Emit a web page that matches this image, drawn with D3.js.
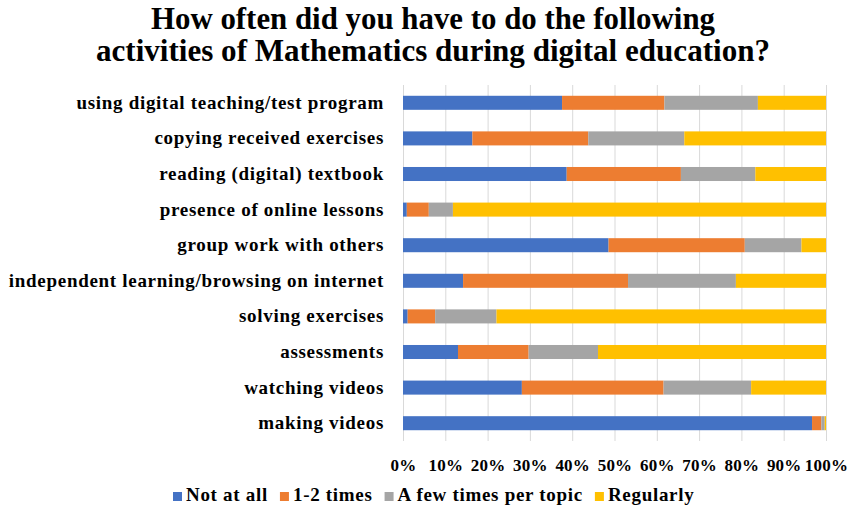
<!DOCTYPE html>
<html>
<head>
<meta charset="utf-8">
<script src="https://cdn.jsdelivr.net/npm/d3@7"></script>
<style>
  html, body { margin: 0; padding: 0; background: #fff; }
  svg { display: block; }
  text { font-family: "Liberation Serif", "Times New Roman", serif; font-weight: bold; fill: #000; }
</style>
</head>
<body>
<svg id="chart" width="856" height="508"></svg>
<script>
// Activities, top to bottom
const activities = [
  "using digital teaching/test program",
  "copying received exercises",
  "reading (digital) textbook",
  "presence of online lessons",
  "group work with others",
  "independent learning/browsing on internet",
  "solving exercises",
  "assessments",
  "watching videos",
  "making videos"
];

// Response categories (stack order, left to right)
const responses = ["Not at all", "1-2 times", "A few times per topic", "Regularly"];

// Share of answers (%) per activity, one array per response
const notAtAll      = [37.6, 16.4, 38.7,  0.9, 48.6, 14.2,  1.1, 13.0, 28.1, 96.7];
const oneTwoTimes   = [24.2, 27.4, 27.0,  5.2, 32.2, 39.0,  6.5, 16.7, 33.5,  2.2];
const fewPerTopic   = [22.1, 22.7, 17.6,  5.7, 13.4, 25.5, 14.5, 16.4, 20.7,  0.8];
const regularly     = [16.1, 33.5, 16.7, 88.2,  5.8, 21.3, 77.9, 53.9, 17.7,  0.3];

const tickValues = [0, 0.1, 0.2, 0.3, 0.4, 0.5, 0.6, 0.7, 0.8, 0.9, 1.0];

const colors = ["#4472C4", "#ED7D31", "#A5A5A5", "#FFC000"];

const titleLines = [
  "How often did you have to do the following",
  "activities of Mathematics during digital education?"
];

// Build rows for stacking (normalised to shares of 1)
const seriesValues = [notAtAll, oneTwoTimes, fewPerTopic, regularly];
const rows = activities.map((a, i) => {
  const row = { activity: a };
  const total = d3.sum(seriesValues, s => s[i]);
  responses.forEach((r, k) => { row[r] = seriesValues[k][i] / total; });
  return row;
});

const svg = d3.select("#chart");
const margin = { top: 85, left: 403 };
const plotW = 423, plotH = 356;

const x = d3.scaleLinear().domain([0, 1]).range([0, plotW]);
const y = d3.scaleBand().domain(activities).range([0, plotH]).paddingInner(0.606).paddingOuter(0.303);

const g = svg.append("g").attr("transform", `translate(${margin.left},${margin.top})`);

// Vertical gridlines
g.append("g")
  .selectAll("line")
  .data(tickValues)
  .join("line")
  .attr("x1", d => x(d) + 0.5)
  .attr("x2", d => x(d) + 0.5)
  .attr("y1", 0)
  .attr("y2", plotH)
  .attr("stroke", "#d9d9d9")
  .attr("stroke-width", 1);

// Stacked bars
const stacked = d3.stack().keys(responses)(rows);

g.append("g")
  .selectAll("g")
  .data(stacked)
  .join("g")
  .attr("fill", (d, i) => colors[i])
  .selectAll("rect")
  .data(d => d)
  .join("rect")
  .attr("x", d => x(d[0]))
  .attr("width", d => Math.max(0, x(d[1]) - x(d[0])))
  .attr("y", d => y(d.data.activity))
  .attr("height", y.bandwidth());

// X axis (percent labels only)
const xAxis = d3.axisBottom(x)
  .tickValues(tickValues)
  .tickFormat(d3.format(".0%"))
  .tickSize(0)
  .tickPadding(18);

const xg = g.append("g")
  .attr("transform", `translate(0,${plotH})`)
  .call(xAxis);
xg.select(".domain").remove();
xg.selectAll("text")
  .attr("font-family", "Liberation Serif")
  .attr("font-weight", "bold")
  .attr("font-size", 17)
  .attr("letter-spacing", "0.2px")
  .attr("fill", "#000");

// Y axis (activity labels)
const yAxis = d3.axisLeft(y).tickSize(0).tickPadding(19);
const yg = g.append("g").call(yAxis);
yg.select(".domain").remove();
yg.selectAll("text")
  .attr("font-family", "Liberation Serif")
  .attr("font-weight", "bold")
  .attr("font-size", 19)
  .attr("letter-spacing", "0.7px")
  .attr("fill", "#000");

// Title
const titleWidths = [564, 674];
svg.append("g")
  .selectAll("text")
  .data(titleLines)
  .join("text")
  .attr("x", 433)
  .attr("y", (d, i) => 29 + i * 32)
  .attr("text-anchor", "middle")
  .attr("font-size", 31)
  .attr("textLength", (d, i) => titleWidths[i])
  .attr("lengthAdjust", "spacingAndGlyphs")
  .text(d => d);

// Legend
const legend = svg.append("g").attr("transform", "translate(173,492)");
let lx = 0;
responses.forEach((r, i) => {
  const item = legend.append("g").attr("transform", `translate(${lx},0)`);
  item.append("rect")
    .attr("width", 9).attr("height", 9)
    .attr("fill", colors[i]);
  const t = item.append("text")
    .attr("x", 13)
    .attr("y", 9)
    .attr("font-size", 19)
    .attr("letter-spacing", "0.7px")
    .text(r);
  lx += 13 + t.node().getComputedTextLength() + 12;
});
</script>
</body>
</html>
